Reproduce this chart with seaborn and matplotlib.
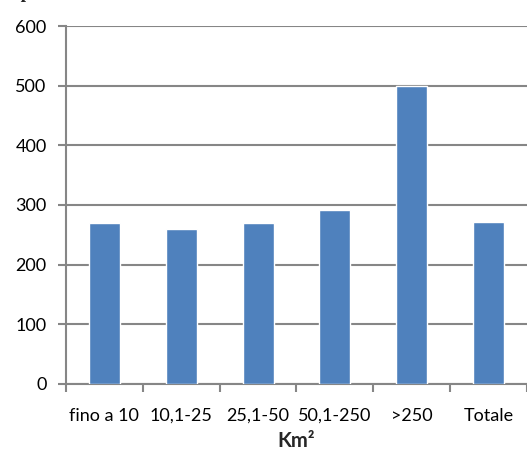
import matplotlib
matplotlib.use("Agg")
import matplotlib.pyplot as plt
import seaborn as sns
import pandas as pd
from matplotlib.ticker import FixedLocator

categories = ["fino a 10", "10,1-25", "25,1-50", "50,1-250", ">250", "Totale"]
values = [270, 259, 269, 292, 500, 271]
y_ticks = [0, 100, 200, 300, 400, 500, 600]

df = pd.DataFrame({"classe": categories, "valore": values})

sns.set_theme(style="white")
plt.rcParams["font.family"] = ["Lato", "DejaVu Sans"]

fig = plt.figure(figsize=(5.27, 4.5), dpi=100)
ax = fig.add_axes([0.1252, 0.1467, 0.8748, 0.7955])

sns.barplot(data=df, x="classe", y="valore", color="#4F81BD", width=0.405,
            saturation=1, ax=ax, zorder=3)

grid_c = "#868686"
ax.set_ylim(0, 600)
ax.set_xlim(-0.5, len(categories) - 0.5)
ax.set_yticks(y_ticks)
ax.yaxis.grid(True, color=grid_c, linewidth=1.5, zorder=0)
ax.set_axisbelow(True)

for s in ["top", "right"]:
    ax.spines[s].set_visible(False)
for s in ["left", "bottom"]:
    ax.spines[s].set_color(grid_c)
    ax.spines[s].set_linewidth(1.5)

ax.tick_params(axis="y", which="major", left=True, length=6, width=1.5,
               color=grid_c, labelsize=13, labelcolor="black", pad=8)
ax.tick_params(axis="x", which="major", bottom=False, labelsize=13,
               labelcolor="black", pad=11)
ax.xaxis.set_minor_locator(FixedLocator([i - 0.5 for i in range(len(categories) + 1)]))
ax.tick_params(axis="x", which="minor", bottom=True, length=6, width=1.5,
               color=grid_c)

ax.set_ylabel("")
ax.set_xlabel("Km²", fontsize=14.5, fontweight="bold", labelpad=5)

# chart title, running off the top edge of the figure
fig.text(0.0, 1 + 2 / 450, "rispondenti", fontsize=14, fontweight="bold",
         family=["Liberation Serif", "DejaVu Serif"], va="baseline", ha="left")

fig.savefig("out.png", dpi=100)
